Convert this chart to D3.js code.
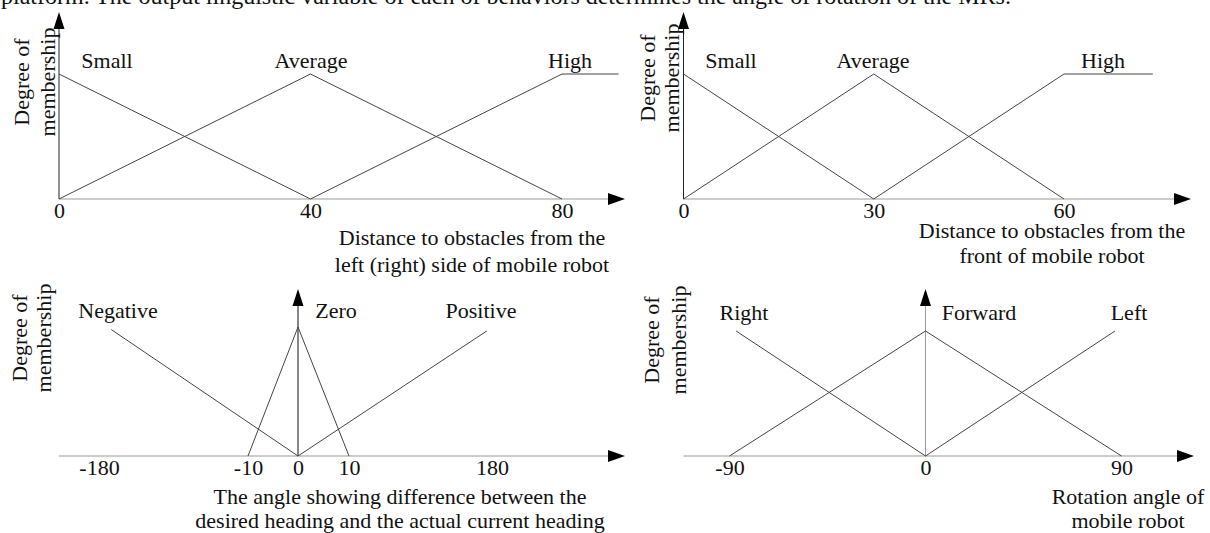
<!DOCTYPE html>
<html>
<head>
<meta charset="utf-8">
<script src="https://cdn.jsdelivr.net/npm/d3@7/dist/d3.min.js"></script>
<style>
  html, body { margin: 0; padding: 0; background: #fff; }
  svg { display: block; }
  text { font-family: "Liberation Serif", "Times New Roman", serif; fill: #111; }
</style>
</head>
<body>
<svg id="chart" width="1210" height="533"></svg>
<script>
// ---- data ----
const introText = "platform. The output linguistic variable of each of behaviors determines the angle of rotation of the MRs.";

// left / right distance
const leftTicks  = [0, 40, 80];
const leftSets   = ["Small", "Average", "High"];
const leftSmall  = [[0, 1], [40, 0]];
const leftAvg    = [[0, 0], [40, 1], [80, 0]];
const leftHigh   = [[40, 0], [80, 1], [89, 1]];

// front distance
const frontTicks = [0, 30, 60];
const frontSets  = ["Small", "Average", "High"];
const frontSmall = [[0, 1], [30, 0]];
const frontAvg   = [[0, 0], [30, 1], [60, 0]];
const frontHigh  = [[30, 0], [60, 1], [74, 1]];

// heading difference
const headTicks  = [-180, -10, 0, 10, 180];
const headSets   = ["Negative", "Zero", "Positive"];
const headNeg    = [[-166, 0.98], [0, 0]];
const headZero   = [[-10, 0], [0, 1], [10, 0]];
const headPos    = [[0, 0], [174, 0.97]];

// rotation angle
const rotTicks   = [-90, 0, 90];
const rotSets    = ["Right", "Forward", "Left"];
const rotRight   = [[-87, 1], [0, 0]];
const rotFwd     = [[-90, 0], [0, 1], [90, 0]];
const rotLeft    = [[0, 0], [87, 1]];

const yLabel = ["Degree of", "membership"];

// ---- layout ----
const panels = [
  {
    ticks: leftTicks, sets: leftSets, series: [leftSmall, leftAvg, leftHigh],
    xDomain: [0, 80], xRange: [59, 562], axisFrom: 59, axisTo: 625,
    y0: 199, y1: 74, yTip: 12, yAxisColor: "#222",
    setX: [107, 311, 570], setY: 68,
    title: ["Distance to obstacles from the", "left (right) side of mobile robot"],
    titleX: 472, titleY: [245, 272],
    ylabX: [29, 55], ylabY: 82
  },
  {
    ticks: frontTicks, sets: frontSets, series: [frontSmall, frontAvg, frontHigh],
    xDomain: [0, 60], xRange: [683.5, 1064], axisFrom: 683.5, axisTo: 1191,
    y0: 199, y1: 74, yTip: 12, yAxisColor: "#222",
    setX: [731, 873, 1103], setY: 68,
    title: ["Distance to obstacles from the", "front of mobile robot"],
    titleX: 1052, titleY: [238, 263],
    ylabX: [655, 679], ylabY: 78
  },
  {
    ticks: headTicks, sets: headSets, series: [headNeg, headZero, headPos],
    xDomain: [-180, -10, 0, 10, 180], xRange: [99, 248, 298, 349, 492], axisFrom: 59, axisTo: 625,
    y0: 456, y1: 327, yTip: 289, yAxisColor: "#111",
    setX: [118, 336, 481], setY: 318,
    title: ["The angle showing difference between the", "desired heading and the actual current heading"],
    titleX: 400, titleY: [504, 528],
    ylabX: [27, 51], ylabY: 338
  },
  {
    ticks: rotTicks, sets: rotSets, series: [rotRight, rotFwd, rotLeft],
    xDomain: [-90, 0, 90], xRange: [729.5, 925.5, 1121.5], axisFrom: 683.5, axisTo: 1194,
    y0: 456, y1: 331, yTip: 289, yAxisColor: "#999",
    setX: [744, 979, 1129], setY: 320,
    title: ["Rotation angle of", "mobile robot"],
    titleX: 1128, titleY: [504, 528],
    ylabX: [659, 686], ylabY: 340
  }
];

const fontSize = 22;
const svg = d3.select("#chart");

// cut-off sentence at the very top
svg.append("text")
  .attr("x", 1).attr("y", 4)
  .attr("font-size", 24)
  .text(introText);

panels.forEach(p => {
  const g = svg.append("g");
  const x = d3.scaleLinear().domain(p.xDomain).range(p.xRange);
  const y = d3.scaleLinear().domain([0, 1]).range([p.y0, p.y1]);

  // x axis line + arrow
  g.append("line")
    .attr("x1", p.axisFrom).attr("x2", p.axisTo - 14)
    .attr("y1", y(0)).attr("y2", y(0))
    .attr("stroke", "#999").attr("stroke-width", 1);
  g.append("path")
    .attr("d", `M${p.axisTo},${y(0)} L${p.axisTo - 17},${y(0) - 6} L${p.axisTo - 17},${y(0) + 6} Z`)
    .attr("fill", "#000");

  // y axis line + arrow
  g.append("line")
    .attr("x1", x(0)).attr("x2", x(0))
    .attr("y1", y(0)).attr("y2", p.yTip + 14)
    .attr("stroke", p.yAxisColor).attr("stroke-width", 1);
  g.append("path")
    .attr("d", `M${x(0)},${p.yTip} L${x(0) - 5.5},${p.yTip + 17} L${x(0) + 5.5},${p.yTip + 17} Z`)
    .attr("fill", "#000");

  // tick labels (plain hyphen for negatives, as in the figure)
  const axis = g.append("g")
    .attr("transform", `translate(0,${y(0)})`)
    .call(d3.axisBottom(x).tickValues(p.ticks).tickSize(0).tickFormat(d => String(d)));
  axis.select(".domain").remove();
  axis.selectAll("text")
    .attr("y", 19).attr("dy", 0)
    .attr("font-size", fontSize)
    .attr("font-family", "Liberation Serif, Times New Roman, serif")
    .attr("fill", "#111");

  // membership functions
  const line = d3.line().x(d => x(d[0])).y(d => y(d[1]));
  g.selectAll("path.mf")
    .data(p.series)
    .join("path")
    .attr("class", "mf")
    .attr("d", line)
    .attr("fill", "none")
    .attr("stroke", "#444")
    .attr("stroke-width", 1);

  // set names
  g.selectAll("text.set")
    .data(p.sets)
    .join("text")
    .attr("class", "set")
    .attr("x", (d, i) => p.setX[i])
    .attr("y", p.setY)
    .attr("text-anchor", "middle")
    .attr("font-size", fontSize)
    .text(d => d);

  // x axis title
  g.selectAll("text.xt")
    .data(p.title)
    .join("text")
    .attr("class", "xt")
    .attr("x", p.titleX)
    .attr("y", (d, i) => p.titleY[i])
    .attr("text-anchor", "middle")
    .attr("font-size", fontSize)
    .text(d => d);

  // y axis title (rotated)
  g.selectAll("text.yt")
    .data(yLabel)
    .join("text")
    .attr("class", "yt")
    .attr("transform", (d, i) => `translate(${p.ylabX[i]},${p.ylabY}) rotate(-90)`)
    .attr("text-anchor", "middle")
    .attr("font-size", fontSize)
    .text(d => d);
});
</script>
</body>
</html>
